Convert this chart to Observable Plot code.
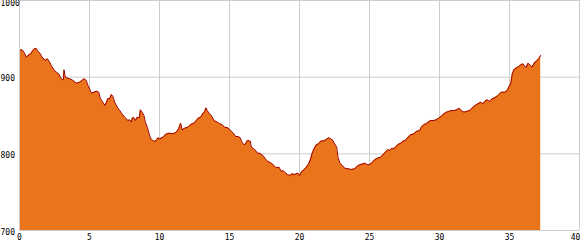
<!DOCTYPE html>
<html>
<head>
<meta charset="utf-8">
<script src="https://cdn.jsdelivr.net/npm/d3@7"></script>
<script src="https://cdn.jsdelivr.net/npm/@observablehq/plot@0.6"></script>
<style>
  html, body { margin: 0; padding: 0; background: #fff; }
  #chart svg { display: block; }
</style>
</head>
<body>
<div id="chart"></div>
<script>
// Distance along route (km)
const distanceKm = [
  0,0.18,0.32,0.49,0.61,0.80,0.96,1.09,1.20,1.32,
  1.46,1.61,1.75,1.84,1.99,2.16,2.27,2.46,2.63,2.80,
  2.94,3.06,3.13,3.18,3.25,3.34,3.59,3.82,4.06,4.30,
  4.46,4.61,4.77,4.89,5.01,5.13,5.32,5.49,5.66,5.75,
  5.87,6.11,6.32,6.44,6.56,6.68,6.80,6.99,7.16,7.32,
  7.51,7.75,7.87,7.99,8.06,8.18,8.27,8.41,8.56,8.63,
  8.77,8.89,8.99,9.13,9.23,9.37,9.49,9.61,9.77,9.89,
  10.01,10.25,10.49,10.73,10.96,11.20,11.37,11.51,11.61,11.80,
  12.04,12.23,12.46,12.63,12.80,12.94,13.09,13.23,13.32,13.41,
  13.54,13.70,13.89,14.13,14.30,14.46,14.66,14.89,15.13,15.32,
  15.44,15.61,15.77,15.89,16.04,16.16,16.23,16.32,16.49,16.56,
  16.73,16.87,16.99,17.16,17.39,17.56,17.75,17.99,18.18,18.34,
  18.54,18.70,18.82,18.94,19.13,19.30,19.46,19.66,19.89,20.01,
  20.13,20.32,20.49,20.66,20.80,20.89,21.04,21.20,21.37,21.51,
  21.75,21.91,22.09,22.23,22.39,22.51,22.66,22.75,22.89,23.06,
  23.23,23.46,23.70,23.94,24.13,24.30,24.54,24.70,24.84,25.01,
  25.18,25.37,25.56,25.80,25.96,26.13,26.32,26.44,26.61,26.75,
  26.84,27.04,27.23,27.39,27.56,27.75,27.94,28.18,28.34,28.59,
  28.70,28.89,29.06,29.18,29.37,29.61,29.77,29.94,30.13,30.32,
  30.49,30.66,30.84,31.09,31.27,31.41,31.56,31.75,31.91,32.16,
  32.40,32.63,32.75,32.94,33.11,33.23,33.41,33.59,33.75,33.94,
  34.18,34.41,34.66,34.84,34.94,35.09,35.20,35.32,35.49,35.66,
  35.84,35.96,36.09,36.20,36.32,36.51,36.61,36.75,36.91,37.09,
  37.23
];
// Elevation (m)
const elevationM = [
  934.8,935.7,932.6,926.0,928.3,930.5,934.8,937.4,937.4,933.5,
  931.3,926.0,924.0,921.7,924.0,919.5,915.2,909.6,906.5,904.4,
  899.2,896.6,897.0,909.6,902.2,899.2,897.9,895.7,892.1,893.4,
  895.7,897.9,895.7,889.1,884.8,879.1,880.4,881.7,880.4,873.9,
  869.6,863.0,872.2,871.8,877.4,874.8,867.4,860.8,856.5,852.2,
  847.8,843.5,844.4,841.3,847.0,847.0,843.5,847.8,847.0,857.4,
  854.3,850.0,841.3,834.7,828.2,819.6,818.3,816.1,817.4,820.9,
  819.6,821.7,826.1,826.9,826.1,828.2,832.7,840.0,831.4,833.4,
  834.7,838.3,840.0,843.5,847.0,847.8,852.2,855.2,860.0,856.5,
  853.0,850.0,843.5,841.3,839.2,838.3,834.7,833.9,829.5,826.1,
  822.6,822.6,820.9,815.2,811.8,813.1,816.5,817.4,816.5,808.7,
  806.6,804.4,800.8,800.8,797.8,793.5,790.0,787.8,784.8,781.8,
  782.6,777.0,778.3,776.1,773.1,771.7,773.9,773.1,774.8,771.7,
  776.1,779.2,782.6,787.0,793.5,800.0,806.6,811.8,813.1,816.5,
  817.0,818.7,820.9,819.6,817.4,813.1,808.7,795.6,787.8,784.8,
  781.3,780.5,779.6,780.5,783.9,785.7,787.0,787.8,785.7,786.1,
  788.3,792.2,794.3,795.6,798.7,802.1,805.7,804.4,807.4,806.6,
  808.7,812.2,813.9,816.5,817.4,821.7,824.8,826.1,829.1,830.4,
  834.7,838.3,839.2,841.3,843.5,843.5,844.4,846.5,849.1,852.2,
  854.3,855.2,856.5,856.5,857.8,859.5,856.5,854.3,855.2,856.5,
  860.8,864.0,865.3,867.4,865.3,868.3,870.5,868.3,871.8,873.1,
  876.1,880.4,880.4,882.6,886.9,891.4,904.4,909.6,912.2,913.9,
  916.5,917.4,913.9,913.0,918.2,915.2,913.0,918.2,920.8,924.0,
  928.3
];
const xTicks = [0, 5, 10, 15, 20, 25, 30, 35, 40];
const yTicks = [700, 800, 900, 1000];
const xDomain = [0, 40];
const yDomain = [700, 1000];

const data = distanceKm.map((d, i) => ({km: d, elev: elevationM[i]}));

const font = {fontFamily: "'DejaVu Sans Mono', monospace", fontSize: 8, fill: "#000", tickFormat: d => String(d)};

const chart = Plot.plot({
  width: 580,
  height: 250,
  marginLeft: 19,
  marginRight: 1,
  marginTop: 0,
  marginBottom: 20,
  style: {fontFamily: "'DejaVu Sans Mono', monospace", fontSize: "8px", background: "#fff"},
  x: {domain: xDomain, axis: null},
  y: {domain: yDomain, axis: null},
  marks: [
    Plot.ruleX(xTicks, {stroke: "#cccccc", strokeWidth: 1}),
    Plot.ruleY(yTicks, {stroke: "#cccccc", strokeWidth: 1}),
    Plot.areaY(data, {x: "km", y1: yDomain[0], y2: "elev", fill: "#ea741c", curve: "linear"}),
    Plot.lineY(data, {x: "km", y: "elev", stroke: "#a00000", strokeWidth: 1, curve: "linear"}),
    Plot.ruleX(xTicks.filter(t => t === xDomain[0]), {stroke: "#cccccc"}),
    Plot.ruleY(yTicks.filter(t => t === yDomain[0]), {stroke: "#cccccc"}),
    Plot.axisY(yTicks.filter(t => t < 1000), {tickSize: 0, tickPadding: 19, textAnchor: "start", dy: 1.5, ...font, label: null}),
    Plot.axisY(yTicks.filter(t => t === 1000), {tickSize: 0, tickPadding: 19, textAnchor: "start", dy: 3, ...font, label: null}),
    Plot.axisX(xTicks.filter(t => t < 40), {tickSize: 0, tickPadding: 4, ...font, label: null}),
    Plot.axisX(xTicks.filter(t => t === 40), {tickSize: 0, tickPadding: 4, dx: -4, ...font, label: null})
  ]
});
document.getElementById("chart").appendChild(chart);
</script>
</body>
</html>
